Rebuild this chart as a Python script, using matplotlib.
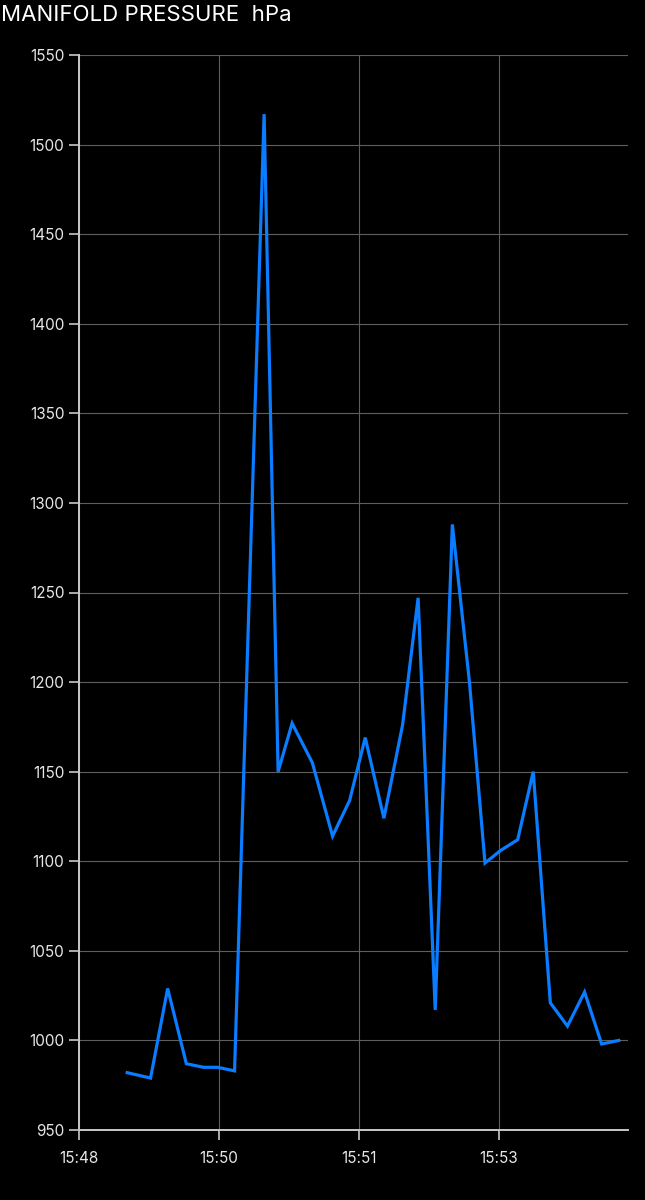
import matplotlib
matplotlib.use("Agg")
import matplotlib.pyplot as plt

# Samples
times = ["15:48:31", "15:48:46", "15:48:57", "15:49:09", "15:49:20", "15:49:29",
         "15:49:40", "15:49:59", "15:50:08", "15:50:17", "15:50:30", "15:50:43",
         "15:50:54", "15:51:04", "15:51:16", "15:51:28", "15:51:38", "15:51:49",
         "15:52:00", "15:52:11", "15:52:21", "15:52:31", "15:52:42", "15:52:52",
         "15:53:03", "15:53:14", "15:53:25", "15:53:36", "15:53:47"]
pressure = [982, 979, 1029, 987, 985, 985, 983, 1517, 1150, 1177, 1155, 1114,
            1134, 1169, 1124, 1176, 1247, 1017, 1288, 1200, 1099, 1106, 1112,
            1150, 1021, 1008, 1027, 998, 1000]
tick_secs = [0, 90, 180, 270]
tick_labels = ["15:48", "15:50", "15:51", "15:53"]
y_ticks = list(range(950, 1551, 50))


def to_sec(t):
    h, m, s = (int(p) for p in t.split(":"))
    return (h * 3600 + m * 60 + s) - (15 * 3600 + 48 * 60)


x = [to_sec(t) for t in times]

plt.rcParams["font.family"] = ["Inter", "DejaVu Sans"]

fig = plt.figure(figsize=(6.45, 12), dpi=100, facecolor="black")
ax = fig.add_axes([79 / 645, 1 - 1130 / 1200, (628 - 79) / 645, (1130 - 55) / 1200])
ax.set_facecolor("black")

ax.plot(x, pressure, color="#0A7CFF", linewidth=2.3, solid_joinstyle="miter")

ax.set_xlim(0, (628 - 79) / 140 * 90)
ax.set_ylim(950, 1550)
ax.set_xticks(tick_secs)
ax.set_xticklabels(tick_labels)
ax.set_yticks(y_ticks)

ax.grid(True, color="#5e5e5e", linewidth=0.8)
ax.set_axisbelow(True)
for side in ["top", "right"]:
    ax.spines[side].set_visible(False)
for side in ["left", "bottom"]:
    ax.spines[side].set_color("#c8c8c8")
    ax.spines[side].set_linewidth(1.4)

ax.tick_params(colors="#c8c8c8", labelcolor="#e6e6e6", labelsize=11,
               length=7, width=1.2)
ax.tick_params(axis="x", pad=8)

fig.text(0.002, 1 - 15 / 1200, "MANIFOLD PRESSURE  hPa", color="white",
         fontsize=16, va="center", ha="left")

fig.savefig("out.png", dpi=100, facecolor="black")
